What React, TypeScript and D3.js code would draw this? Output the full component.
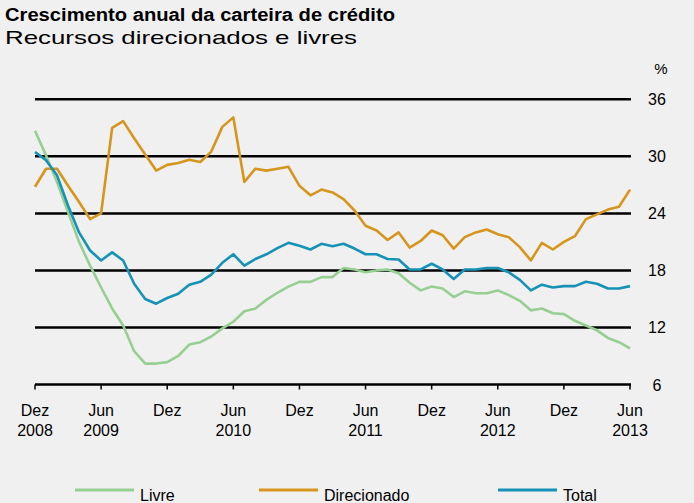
import React from "react";
import * as d3 from "d3";

const W = 694;
const H = 503;

// months from Dez 2008 to Jun 2013 (55 points)
const livre = [
  32.7, 30.1, 27.3, 24.1, 21.0, 18.5, 16.2, 14.0, 12.2, 9.5, 8.2, 8.2, 8.35, 9.0,
  10.2, 10.45, 11.05, 11.9, 12.6, 13.7, 14.0, 14.9, 15.65, 16.3, 16.8, 16.8, 17.3,
  17.3, 18.25, 18.1, 17.8, 18.0, 18.1, 17.7, 16.7, 15.9, 16.3, 16.1, 15.2, 15.8,
  15.6, 15.6, 15.9, 15.4, 14.8, 13.8, 14.0, 13.5, 13.4, 12.7, 12.2, 11.7, 10.9,
  10.45, 9.8,
];
const direcionado = [
  26.8, 28.7, 28.7, 26.9, 25.2, 23.4, 24.0, 33.0, 33.7, 31.9, 30.2, 28.5, 29.1, 29.3,
  29.65, 29.4, 30.5, 33.1, 34.1, 27.3, 28.7, 28.5, 28.7, 28.9, 26.9, 25.9, 26.5,
  26.2, 25.5, 24.3, 22.7, 22.2, 21.2, 22.0, 20.4, 21.1, 22.2, 21.7, 20.3, 21.5,
  22.0, 22.3, 21.8, 21.5, 20.45, 19.05, 20.9, 20.2, 21.0, 21.6, 23.4, 23.9, 24.4,
  24.7, 26.5,
];
const total = [
  30.45, 29.6, 28.0, 24.8, 22.0, 20.1, 19.05, 19.9, 19.05, 16.6, 15.0, 14.5, 15.1,
  15.55, 16.5, 16.8, 17.55, 18.8, 19.7, 18.5, 19.2, 19.7, 20.35, 20.9, 20.6, 20.2,
  20.8, 20.55, 20.8, 20.3, 19.7, 19.7, 19.2, 19.15, 18.1, 18.1, 18.7, 18.1, 17.1,
  18.1, 18.1, 18.25, 18.25, 17.8, 17.0, 15.9, 16.5, 16.2, 16.35, 16.35, 16.8, 16.6,
  16.1, 16.1, 16.35,
];

const yTicks = [6, 12, 18, 24, 30, 36];
const xTickLabels = [
  ["Dez", "2008"],
  ["Jun", "2009"],
  ["Dez", ""],
  ["Jun", "2010"],
  ["Dez", ""],
  ["Jun", "2011"],
  ["Dez", ""],
  ["Jun", "2012"],
  ["Dez", ""],
  ["Jun", "2013"],
];

const seriesNames = ["Livre", "Direcionado", "Total"];
const seriesColors = ["#97cf93", "#d6951c", "#1592b6"];

export default function App() {
  const x = d3.scaleLinear().domain([0, livre.length - 1]).range([35, 630]);
  const y = d3.scaleLinear().domain([6, 36]).range([384.5, 99.3]);
  const line = d3
    .line<number>()
    .x((_, i) => x(i))
    .y((d) => y(d));
  const data = [livre, direcionado, total];
  const font = "'Liberation Sans', Arial, sans-serif";
  const legendX = [75, 259, 498];

  return (
    <svg
      width={W}
      height={H}
      style={{ position: "absolute", left: 0, top: 0, background: "#f0f0f0" }}
      fontFamily={font}
    >
      <rect width={W} height={H} fill="#f0f0f0" />
      <text x={5} y={21} fontSize={17.5} fontWeight="bold" textLength={390} lengthAdjust="spacingAndGlyphs">
        Crescimento anual da carteira de crédito
      </text>
      <text x={5} y={44} fontSize={19} textLength={352} lengthAdjust="spacingAndGlyphs">
        Recursos direcionados e livres
      </text>

      {yTicks.slice(1).map((t) => (
        <line key={t} x1={35} x2={631} y1={y(t)} y2={y(t)} stroke="#000" strokeWidth={2.5} />
      ))}
      <line x1={35} x2={631} y1={y(6)} y2={y(6)} stroke="#000" strokeWidth={2.5} />
      {xTickLabels.map((_, k) => (
        <line key={k} x1={x(k * 6)} x2={x(k * 6)} y1={y(6)} y2={y(6) + 5} stroke="#000" strokeWidth={1.5} />
      ))}

      {yTicks.map((t) => (
        <text key={t} x={657} y={y(t) + 6} fontSize={16} textAnchor="middle">
          {t}
        </text>
      ))}
      <text x={661} y={74} fontSize={15} textAnchor="middle">
        %
      </text>

      {xTickLabels.map((l, k) => (
        <text key={k} x={x(k * 6)} y={416} fontSize={16} textAnchor="middle">
          <tspan x={x(k * 6)} dy={0}>{l[0]}</tspan>
          {l[1] ? (
            <tspan x={x(k * 6)} dy={20}>{l[1]}</tspan>
          ) : null}
        </text>
      ))}

      {data.map((d, k) => (
        <path key={k} d={line(d) || ""} fill="none" stroke={seriesColors[k]} strokeWidth={2.6} strokeLinejoin="round" />
      ))}

      {seriesNames.map((n, k) => (
        <g key={n}>
          <line x1={legendX[k]} x2={legendX[k] + 59} y1={490} y2={490} stroke={seriesColors[k]} strokeWidth={3} />
          <text x={legendX[k] + 65} y={501} fontSize={16}>
            {n}
          </text>
        </g>
      ))}
    </svg>
  );
}
